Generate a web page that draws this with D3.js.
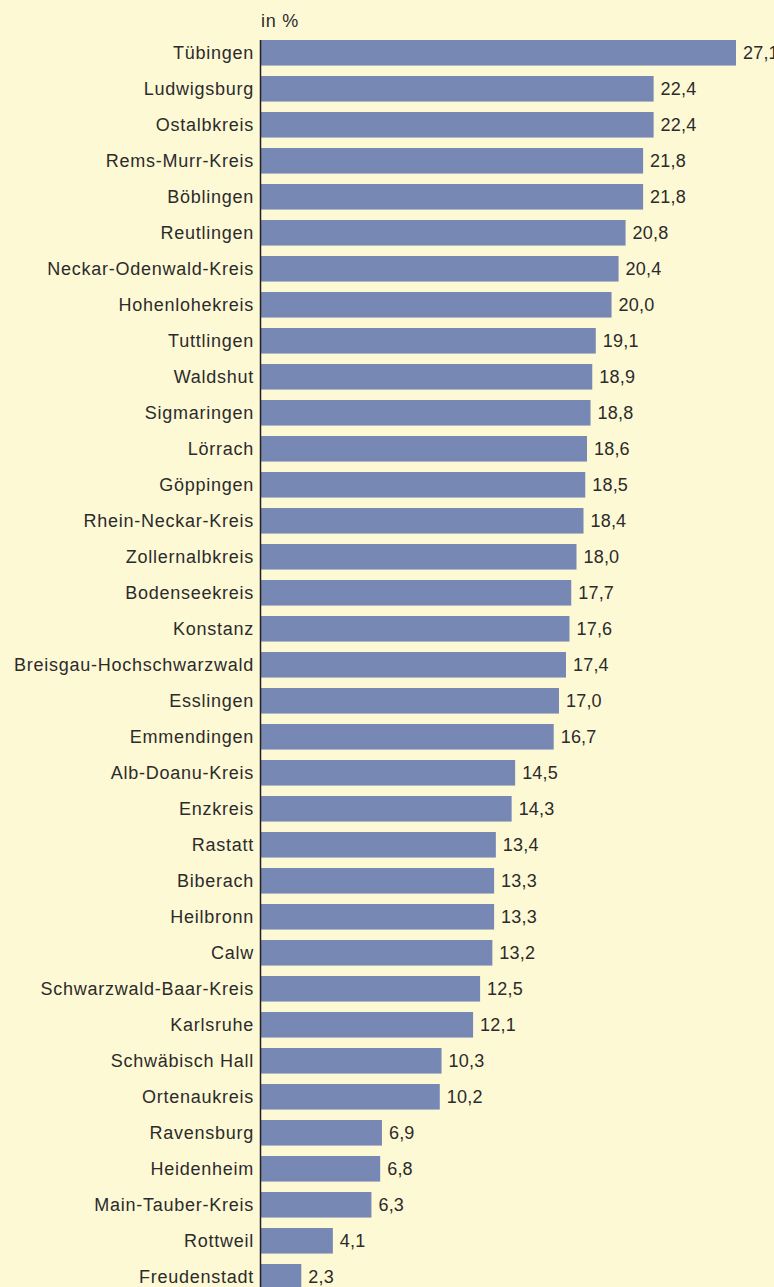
<!DOCTYPE html>
<html>
<head>
<meta charset="utf-8">
<script src="https://cdn.jsdelivr.net/npm/d3@7"></script>
<style>
  html, body { margin: 0; padding: 0; background: #fef9d5; }
  svg { display: block; }
  text { font-family: "Liberation Sans", Arial, sans-serif; fill: #2b2b2b; letter-spacing: 0.75px; }
  text.wert { letter-spacing: 0.2px; }
</style>
</head>
<body>
<svg id="chart" width="774" height="1287"></svg>
<script>
// Kreise, sortiert nach Anteil (in %)
const kreise = [
  "Tübingen", "Ludwigsburg", "Ostalbkreis", "Rems-Murr-Kreis", "Böblingen",
  "Reutlingen", "Neckar-Odenwald-Kreis", "Hohenlohekreis", "Tuttlingen", "Waldshut",
  "Sigmaringen", "Lörrach", "Göppingen", "Rhein-Neckar-Kreis", "Zollernalbkreis",
  "Bodenseekreis", "Konstanz", "Breisgau-Hochschwarzwald", "Esslingen", "Emmendingen",
  "Alb-Doanu-Kreis", "Enzkreis", "Rastatt", "Biberach", "Heilbronn",
  "Calw", "Schwarzwald-Baar-Kreis", "Karlsruhe", "Schwäbisch Hall", "Ortenaukreis",
  "Ravensburg", "Heidenheim", "Main-Tauber-Kreis", "Rottweil", "Freudenstadt"
];
const anteile = [
  27.1, 22.4, 22.4, 21.8, 21.8,
  20.8, 20.4, 20.0, 19.1, 18.9,
  18.8, 18.6, 18.5, 18.4, 18.0,
  17.7, 17.6, 17.4, 17.0, 16.7,
  14.5, 14.3, 13.4, 13.3, 13.3,
  13.2, 12.5, 12.1, 10.3, 10.2,
  6.9, 6.8, 6.3, 4.1, 2.3
];
const einheit = "in %";

const data = kreise.map((k, i) => ({ name: k, value: anteile[i] }));
const fmt = v => d3.format(".1f")(v).replace(".", ",");

const svg = d3.select("#chart");
const x0 = 261;
const x = d3.scaleLinear().domain([0, 27.1]).range([x0, 736]);

const step = 36, pIn = 0.29, pOut = 0.145, plotTop = 40;
const yStart = plotTop - step * pOut;
const y = d3.scaleBand()
  .domain(kreise)
  .range([yStart, yStart + step * (kreise.length - pIn + 2 * pOut)])
  .paddingInner(pIn)
  .paddingOuter(pOut);

const fontSize = 18;

// Balken
svg.append("g").selectAll("rect")
  .data(data)
  .join("rect")
  .attr("x", x(0))
  .attr("y", d => y(d.name))
  .attr("width", d => x(d.value) - x(0))
  .attr("height", y.bandwidth())
  .attr("fill", "#7888b5");

// Kategorienachse
svg.append("line")
  .attr("x1", x0 - 0.5).attr("x2", x0 - 0.5)
  .attr("y1", plotTop).attr("y2", 1287)
  .attr("stroke", "#222").attr("stroke-width", 1.5);

// Beschriftungen links
svg.append("g").selectAll("text")
  .data(data)
  .join("text")
  .attr("x", x0 - 7)
  .attr("y", d => y(d.name) + y.bandwidth() / 2)
  .attr("dy", "0.35em")
  .attr("text-anchor", "end")
  .attr("font-size", fontSize)
  .text(d => d.name);

// Werte rechts
svg.append("g").selectAll("text")
  .data(data)
  .join("text")
  .attr("class", "wert")
  .attr("x", d => x(d.value) + 7)
  .attr("y", d => y(d.name) + y.bandwidth() / 2)
  .attr("dy", "0.35em")
  .attr("font-size", fontSize)
  .text(d => fmt(d.value));

// Einheit
svg.append("text")
  .attr("x", x0)
  .attr("y", 27)
  .attr("font-size", fontSize)
  .text(einheit);
</script>
</body>
</html>
